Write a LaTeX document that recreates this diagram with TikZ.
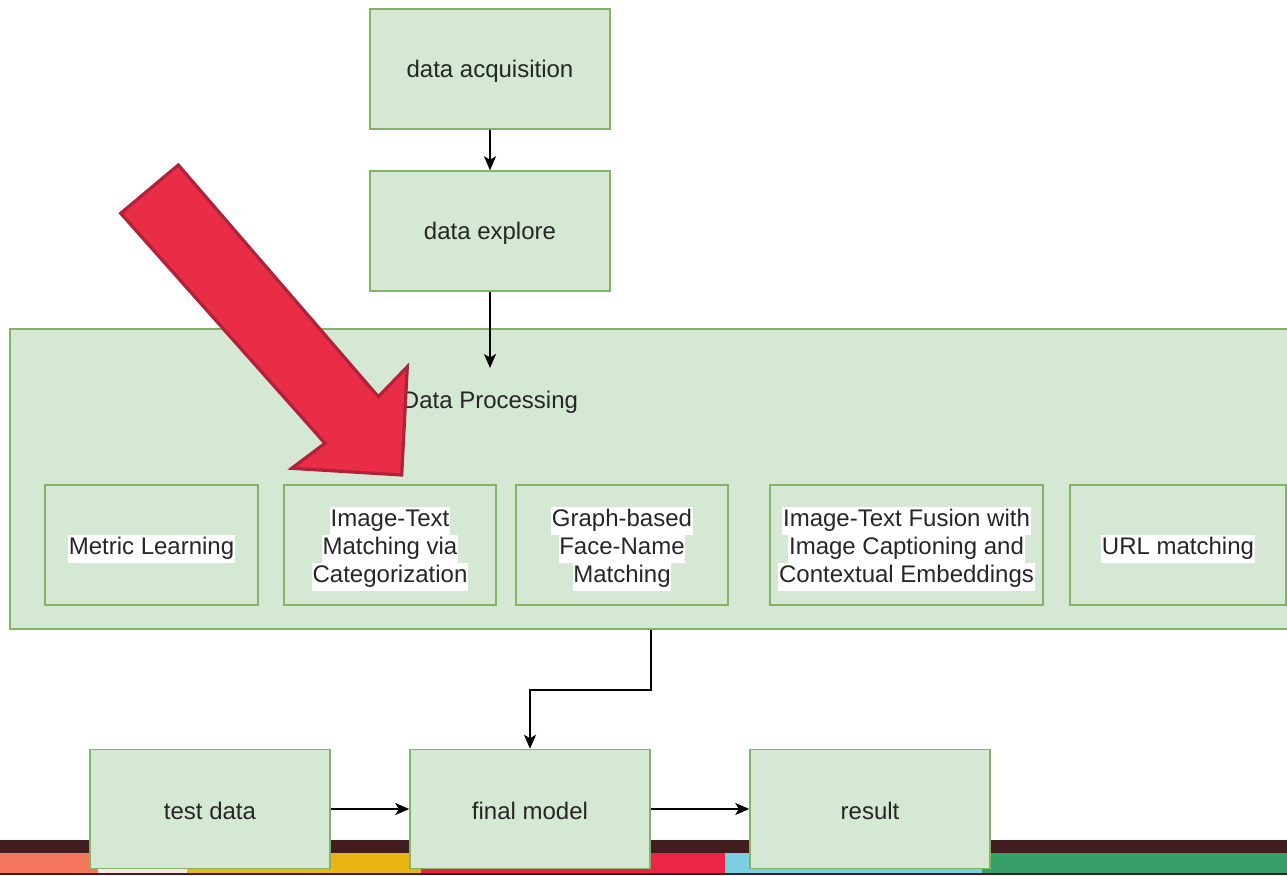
\documentclass[tikz,border=0pt]{standalone}
\usepackage{fontspec}
\setmainfont{Liberation Sans}
\usetikzlibrary{arrows.meta,calc}
\definecolor{boxfill}{HTML}{D5E8D4}
\definecolor{boxline}{HTML}{82B366}
\definecolor{txt}{HTML}{262626}
\definecolor{bandA}{HTML}{431C1F}
\definecolor{stripSalmon}{HTML}{F4775D}
\definecolor{stripPink}{HTML}{FDE7E3}
\definecolor{stripYellow}{HTML}{E9B512}
\definecolor{stripRed}{HTML}{EE2446}
\definecolor{stripBlue}{HTML}{7BCFE3}
\definecolor{stripGreen}{HTML}{379F68}
\definecolor{pointerFill}{HTML}{E92D47}
\definecolor{pointerLine}{HTML}{B0223A}
\setlength{\fboxsep}{0pt}
% white highlight behind one line of text
\newcommand\hlbox[1]{\colorbox{white}{\kern0.8pt\strut #1\kern0.8pt}}
% text set slightly lower than the geometric centre of its box
\newcommand\lowered[1]{\raisebox{-2pt}[\height][\depth]{#1}}
\newcommand\hlstack[1]{\raisebox{-4pt}[\height][\depth]{\begin{tabular}{@{}c@{}}#1\end{tabular}}}
\tikzset{
  box/.style={draw=boxline, fill=boxfill, line width=1.5pt, inner sep=0pt,
    minimum width=240pt, minimum height=120pt, text=txt, align=center,
    font=\fontsize{24}{28}\selectfont},
  inner/.style={box, minimum height=120pt},
  link/.style={draw=black, line width=1.5pt, -{Stealth[length=14pt,width=12pt,inset=3.5pt]}},
  pointer/.style={fill=pointerFill, draw=pointerLine, line width=3.2pt, line join=miter}
}
\begin{document}
\begin{tikzpicture}[x=1pt,y=-1pt]
\useasboundingbox (0,0) rectangle (1287,875);

% coloured footer strip
\fill[bandA] (0,840) rectangle (1287,853);
\fill[stripSalmon] (0,853) rectangle (98,875);
\fill[stripPink] (98,853) rectangle (187,875);
\fill[stripYellow] (187,853) rectangle (421,875);
\fill[stripRed] (421,853) rectangle (725,875);
\fill[stripBlue] (725,853) rectangle (982,875);
\fill[stripGreen] (982,853) rectangle (1287,875);
\fill[bandA] (0,873) rectangle (1287,875);

% pipeline stages
\node[box] (acq) at (490,69) {\lowered{data acquisition}};
\node[box] (exp) at (490,231) {\lowered{data explore}};

% processing group
\node[box, minimum width=1290pt, minimum height=300pt] (proc) at (655,479) {};
\node[text=txt, font=\fontsize{24}{28}\selectfont] (proclabel) at (490,400) {\lowered{Data Processing}};

\node[inner, minimum width=213pt] (ml)  at (151.5,545) {\hlstack{\hlbox{Metric Learning}}};
\node[inner, minimum width=212pt] (itm) at (390,545) {\hlstack{\hlbox{Image-Text}\\\hlbox{Matching via}\\\hlbox{Categorization}}};
\node[inner, minimum width=212pt] (gfn) at (622,545) {\hlstack{\hlbox{Graph-based}\\\hlbox{Face-Name}\\\hlbox{Matching}}};
\node[inner, minimum width=273pt] (itf) at (906.5,545) {\hlstack{\hlbox{Image-Text Fusion with}\\\hlbox{Image Captioning and}\\\hlbox{Contextual Embeddings}}};
\node[inner, minimum width=216pt] (url) at (1178,545) {\hlstack{\hlbox{URL matching}}};

% evaluation row
\node[box, minimum height=119pt] (test)   at (210,809) {\lowered{test data}};
\node[box, minimum height=119pt] (final)  at (530,809) {\lowered{final model}};
\node[box, minimum height=119pt] (result) at (870,809) {\lowered{result}};

% connectors
\coordinate (procin) at (490,368);
\draw[link] (acq.south) -- (exp.north);
\draw[link] (exp.south) -- (procin);
\draw[link] (proc.south -| final.east) -- ++(0,60) -| (final.north);
\draw[link] (test.east) -- (final.west);
\draw[link] (final.east) -- (result.west);

% red pointer arrow
\draw[pointer] (120.7,213.3) -- (178.3,165) -- (378.3,396.7) -- (407.3,366.7)
  -- (401.7,475) -- (291.7,468.3) -- (325,443.3) -- cycle;
\end{tikzpicture}
\end{document}
